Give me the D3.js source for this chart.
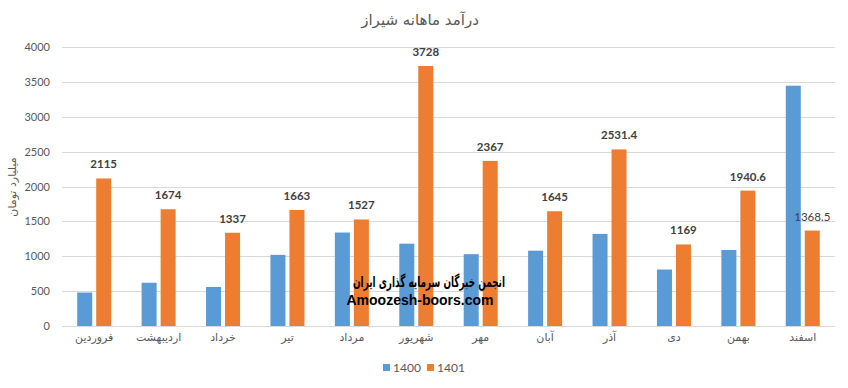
<!DOCTYPE html>
<html><head><meta charset="utf-8">
<script src="https://cdn.jsdelivr.net/npm/d3@7"></script>
<style>html,body{margin:0;padding:0;background:#fff;}</style>
</head><body>
<script>
const months = ["فروردین","اردیبهشت","خرداد","تیر","مرداد","شهریور","مهر","آبان","آذر","دی","بهمن","اسفند"];
const series = ["1400","1401"];
const values1400 = [480, 620, 560, 1020, 1340, 1180, 1030, 1080, 1320, 810, 1090, 3445];
const values1401 = [2115, 1674, 1337, 1663, 1527, 3728, 2367, 1645, 2531.4, 1169, 1940.6, 1368.5];
const labels1401 = ["2115","1674","1337","1663","1527","3728","2367","1645","2531.4","1169","1940.6","1368.5"];
const yTicks = [0,500,1000,1500,2000,2500,3000,3500,4000];
const title = "درآمد ماهانه شیراز";
const yTitle = "میلیارد تومان";
const watermark1 = "انجمن خبرگان سرمایه گذاری ایران";
const watermark2 = "Amoozesh-boors.com";

const W = 848, H = 388;
const colors = {"1400":"#5b9bd5","1401":"#ed7d31"};
const font = "Lato, 'DejaVu Sans', sans-serif";
const svg = d3.select("body").append("svg").attr("width", W).attr("height", H)
  .style("font-family", font);

const x = d3.scaleBand().domain(months).range([62, 835]);
const x1 = d3.scaleBand().domain(series).range([0, x.bandwidth()]).paddingInner(0.21).paddingOuter(0.8);
const y = d3.scaleLinear().domain([0, 4000]).range([326, 47]);

// gridlines
svg.append("g").selectAll("line").data(yTicks).join("line")
  .attr("x1", 62).attr("x2", 835)
  .attr("y1", d => Math.round(y(d)) + 0.5).attr("y2", d => Math.round(y(d)) + 0.5)
  .attr("stroke", "#d9d9d9").attr("stroke-width", 1);

// y axis labels
const yAxis = d3.axisLeft(y).tickValues(yTicks).tickFormat(d3.format("d")).tickSize(0).tickPadding(0);
const ga = svg.append("g").attr("transform", "translate(50,0)").call(yAxis);
ga.select(".domain").remove();
ga.selectAll("text").attr("fill", "#595959").style("font-size", "11px").style("font-family", font);

// x axis labels
const xAxis = d3.axisBottom(x).tickSize(0).tickPadding(0);
const gx = svg.append("g").attr("transform", "translate(0,333)").call(xAxis);
gx.select(".domain").remove();
gx.selectAll("text").attr("fill", "#595959").style("font-size", "11px").style("font-family", "'DejaVu Sans', sans-serif");

// bars
const data = months.map((m, i) => ({m, v: [{s: "1400", v: values1400[i]}, {s: "1401", v: values1401[i]}], lab: labels1401[i], v1401: values1401[i]}));
const groups = svg.append("g").selectAll("g").data(data).join("g")
  .attr("transform", d => `translate(${x(d.m)},0)`);
groups.selectAll("rect").data(d => d.v).join("rect")
  .attr("x", d => x1(d.s)).attr("width", x1.bandwidth())
  .attr("y", d => y(d.v)).attr("height", d => y(0) - y(d.v))
  .attr("fill", d => colors[d.s]);

// data labels
groups.append("text")
  .attr("x", x1("1401") + x1.bandwidth() / 2)
  .attr("y", d => y(d.v1401) - 10)
  .attr("text-anchor", "middle")
  .attr("fill", "#404040")
  .style("font-size", "11.5px")
  .style("font-weight", (d, i) => i === 11 ? "normal" : "bold")
  .text(d => d.lab);

// title
svg.append("text").attr("x", 420).attr("y", 25).attr("text-anchor", "middle")
  .attr("fill", "#595959").style("font-size", "15px").style("font-family", "'DejaVu Sans', sans-serif")
  .text(title);

// y title
svg.append("text").attr("transform", "translate(16,187) rotate(-90)").attr("text-anchor", "middle")
  .attr("fill", "#595959").style("font-size", "11px").style("font-family", "'DejaVu Sans', sans-serif")
  .text(yTitle);

// watermark
svg.append("text").attr("x", 429).attr("y", 287).attr("text-anchor", "middle")
  .attr("textLength", 152).attr("lengthAdjust", "spacingAndGlyphs")
  .attr("fill", "#000").style("font-size", "15px").style("font-weight", "bold").style("font-family", "'DejaVu Sans', sans-serif")
  .text(watermark1);
svg.append("text").attr("x", 420).attr("y", 305).attr("text-anchor", "middle")
  .attr("fill", "#000").style("font-size", "14px").style("font-weight", "bold").style("font-family", "'Liberation Sans', Arial, sans-serif")
  .text(watermark2);

// legend
const legX = [383, 427];
const leg = svg.append("g").selectAll("g").data(series).join("g")
  .attr("transform", (d, i) => `translate(${legX[i]},364)`);
leg.append("rect").attr("width", 7).attr("height", 7).attr("fill", d => colors[d]);
leg.append("text").attr("x", 10).attr("y", 7.5).attr("fill", "#595959")
  .style("font-size", "12px").text(d => d);
</script>
</body></html>
